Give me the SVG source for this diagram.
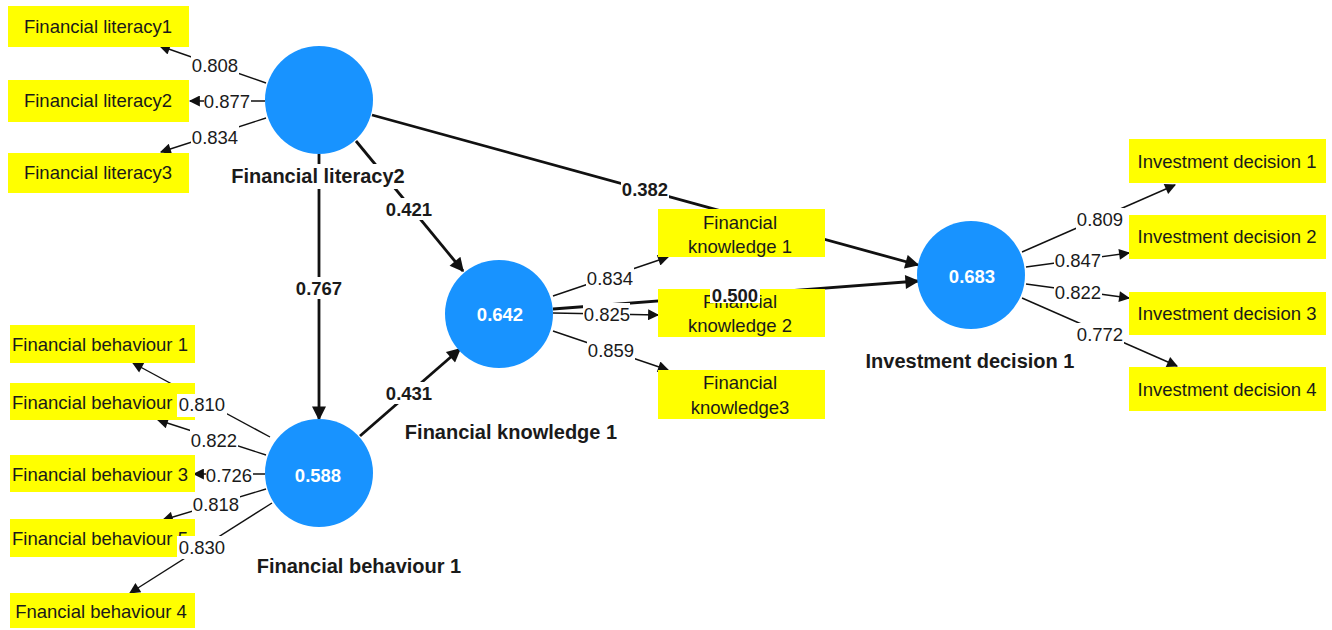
<svg xmlns="http://www.w3.org/2000/svg" width="1332" height="630" viewBox="0 0 1332 630">
<defs>
<style>
.bg{fill:#ffffff}
.box{fill:#ffff00}
.lv{fill:#1893ff}
.t{font-family:"Liberation Sans",Arial,sans-serif;font-size:18.5px;fill:#1a1a1a;text-anchor:middle}
.lbl{font-family:"Liberation Sans",Arial,sans-serif;font-size:18.5px;fill:#1a1a1a;text-anchor:middle}
.coef{font-family:"Liberation Sans",Arial,sans-serif;font-size:18.5px;font-weight:bold;fill:#1a1a1a;text-anchor:middle}
.val{font-family:"Liberation Sans",Arial,sans-serif;font-size:18.5px;font-weight:bold;fill:#ffffff;text-anchor:middle}
.name{font-family:"Liberation Sans",Arial,sans-serif;font-size:20px;font-weight:bold;fill:#1a1a1a;text-anchor:middle}
.ld{stroke:#111;stroke-width:1.4;fill:none;marker-end:url(#ha)}
.st{stroke:#111;stroke-width:2.8;fill:none;marker-end:url(#hb)}
</style>
<marker id="ha" viewBox="0 0 10 10" refX="9" refY="5" markerWidth="13" markerHeight="11" markerUnits="userSpaceOnUse" orient="auto"><path d="M0,0 L10,5 L0,10 z" fill="#111"/></marker>
<marker id="hb" viewBox="0 0 10 10" refX="9" refY="5" markerWidth="17" markerHeight="14" markerUnits="userSpaceOnUse" orient="auto"><path d="M0,0 L10,5 L0,10 z" fill="#111"/></marker>
</defs>
<rect width="1332" height="630" fill="#ffffff"/>

<g id="connectors">
<path class="st" d="M372,115 L918,265"/>
<path class="st" d="M356,141 L463,271"/>
<path class="st" d="M319,154 L319,419"/>
<path class="st" d="M360,436 L460,349"/>
<path class="st" d="M553,309 L918,281"/>
<path class="ld" d="M266,83 L160,46"/>
<path class="ld" d="M265,101 L190,101"/>
<path class="ld" d="M266,118 L161,152"/>
<path class="ld" d="M270,437 L133,363"/>
<path class="ld" d="M266,455 L158,420"/>
<path class="ld" d="M265,474 L194,474"/>
<path class="ld" d="M266,489 L163,520"/>
<path class="ld" d="M272,503 L130,593"/>
<path class="ld" d="M553,296 L668,257"/>
<path class="ld" d="M553,313 L658,315"/>
<path class="ld" d="M553,331 L668,370"/>
<path class="ld" d="M1022,252 L1175,185"/>
<path class="ld" d="M1026,267 L1129,253"/>
<path class="ld" d="M1026,284 L1129,298"/>
<path class="ld" d="M1022,298 L1177,366"/>
</g>

<g id="FL1"><rect class="box" x="8" y="6" width="181" height="41"/><text class="t" x="98" y="33">Financial literacy1</text></g>
<g id="FL2"><rect class="box" x="8" y="80" width="181" height="42"/><text class="t" x="98" y="107">Financial literacy2</text></g>
<g id="FL3"><rect class="box" x="8" y="153" width="181" height="40"/><text class="t" x="98" y="179">Financial literacy3</text></g>

<g id="FB1"><rect class="box" x="10" y="325" width="185" height="38"/><text class="t" x="100" y="351">Financial behaviour 1</text></g>
<g id="FB2"><rect class="box" x="10" y="383" width="185" height="37"/><text class="t" x="100" y="409">Financial behaviour 2</text></g>
<g id="FB3"><rect class="box" x="10" y="455" width="185" height="37"/><text class="t" x="100" y="481">Financial behaviour 3</text></g>
<g id="FB5"><rect class="box" x="10" y="519" width="185" height="38"/><text class="t" x="100" y="545">Financial behaviour 5</text></g>
<g id="FB4"><rect class="box" x="10" y="593" width="185" height="35"/><text class="t" x="101" y="618">Fnancial behaviour 4</text></g>

<g id="FK1"><rect class="box" x="658" y="209" width="167" height="48"/><text class="t" x="740" y="229">Financial</text><text class="t" x="740" y="253">knowledge 1</text></g>
<g id="FK2"><rect class="box" x="658" y="289" width="167" height="48"/><text class="t" x="740" y="308">Financial</text><text class="t" x="740" y="332">knowledge 2</text></g>
<g id="FK3"><rect class="box" x="658" y="370" width="167" height="49"/><text class="t" x="740" y="389">Financial</text><text class="t" x="740" y="414">knowledge3</text></g>

<g id="ID1"><rect class="box" x="1129" y="139" width="197" height="44"/><text class="t" x="1227" y="168">Investment decision 1</text></g>
<g id="ID2"><rect class="box" x="1129" y="215" width="197" height="44"/><text class="t" x="1227" y="243">Investment decision 2</text></g>
<g id="ID3"><rect class="box" x="1129" y="292" width="197" height="43"/><text class="t" x="1227" y="320">Investment decision 3</text></g>
<g id="ID4"><rect class="box" x="1129" y="367" width="197" height="44"/><text class="t" x="1227" y="396">Investment decision 4</text></g>

<g id="FinancialLiteracy2"><circle class="lv" cx="319" cy="100" r="54"/><rect class="bg" x="228" y="164" width="182" height="25"/><text class="name" x="318" y="183">Financial literacy2</text></g>
<g id="FinancialBehaviour1"><circle class="lv" cx="319" cy="473" r="54"/><text class="val" x="318" y="482">0.588</text><text class="name" x="359" y="573">Financial behaviour 1</text></g>
<g id="FinancialKnowledge1"><circle class="lv" cx="499" cy="314" r="54"/><text class="val" x="500" y="321">0.642</text><text class="name" x="511" y="439">Financial knowledge 1</text></g>
<g id="InvestmentDecision1"><circle class="lv" cx="971" cy="275" r="54"/><text class="val" x="972" y="283">0.683</text><text class="name" x="970" y="368">Investment decision 1</text></g>

<g id="labels">
<rect class="bg" x="191" y="54" width="48" height="22"/><text class="lbl" x="215" y="72">0.808</text>
<rect class="bg" x="204" y="90" width="47" height="22"/><text class="lbl" x="227" y="108">0.877</text>
<rect class="bg" x="191" y="126" width="48" height="22"/><text class="lbl" x="215" y="144">0.834</text>
<rect class="bg" x="177" y="394" width="50" height="23"/><text class="lbl" x="202" y="411">0.810</text>
<rect class="bg" x="190" y="429" width="48" height="22"/><text class="lbl" x="214" y="447">0.822</text>
<rect class="bg" x="206" y="464" width="47" height="22"/><text class="lbl" x="229" y="482">0.726</text>
<rect class="bg" x="192" y="493" width="48" height="22"/><text class="lbl" x="216" y="511">0.818</text>
<rect class="bg" x="177" y="536" width="50" height="23"/><text class="lbl" x="202" y="554">0.830</text>
<rect class="bg" x="586" y="267" width="48" height="22"/><text class="lbl" x="610" y="285">0.834</text>
<rect class="bg" x="583" y="303" width="47" height="22"/><text class="lbl" x="607" y="321">0.825</text>
<rect class="bg" x="587" y="339" width="48" height="22"/><text class="lbl" x="611" y="357">0.859</text>
<rect class="bg" x="1076" y="208" width="48" height="22"/><text class="lbl" x="1100" y="226">0.809</text>
<rect class="bg" x="1054" y="249" width="48" height="22"/><text class="lbl" x="1078" y="267">0.847</text>
<rect class="bg" x="1054" y="281" width="48" height="22"/><text class="lbl" x="1078" y="299">0.822</text>
<rect class="bg" x="1076" y="323" width="48" height="22"/><text class="lbl" x="1100" y="341">0.772</text>
<rect class="bg" x="621" y="178" width="48" height="22"/><text class="coef" x="645" y="196">0.382</text>
<rect class="bg" x="385" y="198" width="48" height="22"/><text class="coef" x="409" y="216">0.421</text>
<rect class="bg" x="295" y="277" width="48" height="22"/><text class="coef" x="319" y="295">0.767</text>
<rect class="bg" x="385" y="382" width="48" height="22"/><text class="coef" x="409" y="400">0.431</text>
<rect class="bg" x="710" y="286" width="50" height="17"/><text class="coef" x="735" y="302">0.500</text>
</g>
</svg>
